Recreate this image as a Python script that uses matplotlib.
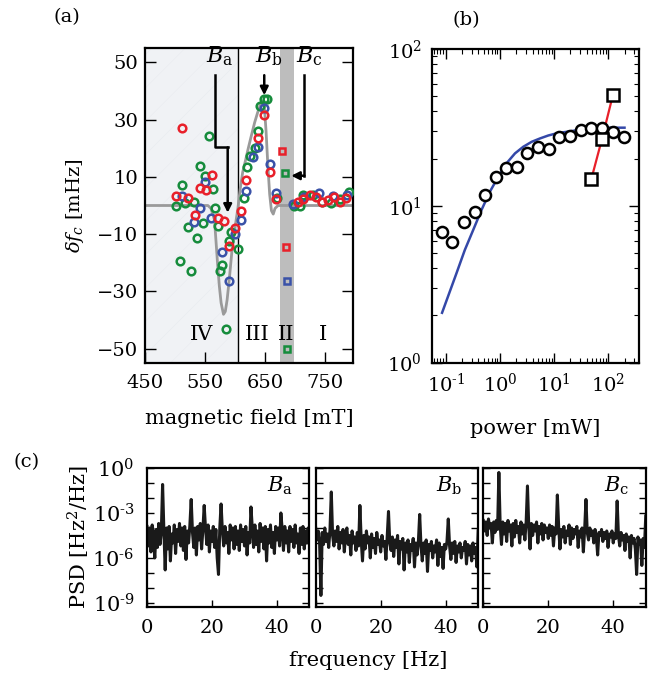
import numpy as np
import matplotlib.pyplot as plt
from matplotlib.patches import Rectangle
from matplotlib.ticker import LogLocator, NullFormatter, FixedLocator

plt.rcParams['font.family'] = ['DejaVu Serif']
plt.rcParams['mathtext.fontset'] = 'dejavuserif'
plt.rcParams['font.size'] = 14
plt.rcParams['axes.linewidth'] = 1.6
plt.rcParams['hatch.linewidth'] = 0.3
plt.rcParams['hatch.color'] = '#e4e8ed'

RED = '#e8202a'
GREEN = '#168c3c'
BLUE = '#3a52a8'

# ---- panel (a): frequency shift vs magnetic field ----
red_B = [512, 502, 522, 533, 541, 551, 561, 572, 581, 590, 600, 610, 619, 638, 649, 659, 668,
         706, 714, 725, 736, 746, 755, 765, 776, 786]
red_df = [27, 3.4, 2.6, -3.2, 6.2, 5.4, 10.7, -4.4, -5.5, -14.2, -7.8, -2, 9, 23.4, 31.6, 11.8, 2.3,
          1.1, 2.3, 3.8, 2.9, 1.1, 1.9, 2.9, 1.3, 2.7]
green_B = [556, 542, 550, 512, 563, 502, 516, 531, 566, 571, 522, 546, 537, 508, 526, 575, 578,
           590, 593, 605, 586, 615, 621, 626, 633, 638, 642, 649, 654, 671, 698, 708, 714, 731,
           746, 761, 775, 790]
green_df = [24.1, 13.9, 10.4, 7.3, 5.8, -0.1, 0.9, 1.3, -1, -7.3, -7.5, -6.1, -11.4, -19.5, -23,
            -23, -20.7, -12.5, -9.3, -15.2, -43, 2.5, 13.3, 17.4, 20, 26, 34.6, 37.3, 37.3, 2.5,
            -0.1, -0.1, 3.7, 3.7, 1.1, 0.9, 2.3, 4.6]
blue_B = [512, 542, 550, 531, 560, 578, 590, 600, 610, 618, 630, 638, 649, 659, 668, 697, 716,
          740, 764, 787]
blue_df = [3.4, -1, 8.1, -5.6, -4.5, -16.1, -26.5, -10, -5, 5.2, 16.8, 20.3, 34, 14.5, 4.4, 0.5,
           2.8, 4.4, 3.4, 3.7]
red_sq_B = [678, 686]
red_sq_df = [19.1, -14.6]
green_sq_B = [683, 687]
green_sq_df = [11.2, -50]
blue_sq_B = [687]
blue_sq_df = [-26.5]

model_B = [450, 555, 560, 566, 571, 574, 577, 581, 584, 587, 591, 595, 600, 605, 609, 613, 618,
           622, 627, 633, 638, 642, 645, 647, 649, 652, 655, 658, 661, 664, 667, 672, 800]
model_df = [0, 0, -1, -5, -20, -28, -34, -38, -37, -33, -25, -16, -8, -1, 6, 11.6, 16, 19.7,
            24, 29, 32.5, 35, 36.3, 36.5, 35, 26, 14, 4, -1.8, -3, -1, 0, 0]

# ---- panel (b): power dependence ----
power = [0.0855, 0.133, 0.215, 0.34, 0.535, 0.843, 1.29, 2.04, 3.2, 5.1, 8.1, 12.6, 19.8, 31.2,
         49, 77, 122, 192]
shift = [6.8, 5.9, 7.9, 9.2, 11.8, 15.2, 17.4, 17.8, 21.8, 23.6, 23.2, 27.6, 28, 30.5, 31.5,
         31.3, 29.4, 27.6]
sq_power = [49, 77, 122]
sq_shift = [14.9, 26.8, 50.9]
fit_power = [0.0855, 0.110, 0.158, 0.225, 0.321, 0.457, 0.653, 0.931, 1.33, 1.90, 2.70, 3.86,
             5.5, 7.85, 11.2, 22.8, 46, 94, 200]
fit_shift = [2.08, 2.64, 3.72, 5.23, 7.01, 9.40, 12.3, 15.3, 18.7, 21.6, 23.8, 25.6, 26.9,
             28.1, 29.0, 30.1, 31.1, 31.5, 31.5]

# ---- panel (c): noise spectra, log10(PSD), 0.4 Hz steps ----
df_step = 0.4
psd_a = [-3.9, -5.2, -4.0, -5.6, -3.8, -4.9, -6.0, -4.1, -5.3, -3.7,
         -5.1, -4.3, -1.1, -4.2, -6.8, -4.0, -5.4, -3.9, -6.2, -4.4,
         -5.0, -3.8, -5.7, -4.1, -4.9, -3.7, -5.2, -4.0, -5.5, -3.9,
         -6.1, -4.2, -5.0, -3.8, -2.1, -4.3, -5.3, -4.0, -5.8, -3.9,
         -4.8, -3.7, -5.4, -4.1, -2.5, -4.0, -5.1, -3.8, -5.6, -4.2,
         -4.9, -3.9, -5.3, -4.1, -6.0, -7.1, -4.0, -2.4, -4.2, -5.2,
         -3.9, -5.0, -4.3, -5.7, -3.8, -4.8, -4.0, -5.4, -3.9, -5.1,
         -4.2, -5.5, -3.8, -4.9, -4.1, -5.2, -3.9, -5.8, -4.3, -5.0,
         -2.6, -4.0, -5.3, -3.8, -5.1, -4.2, -5.6, -3.7, -4.9, -4.0,
         -5.4, -3.9, -6.2, -4.1, -5.0, -3.8, -5.3, -4.3, -5.7, -3.9,
         -4.8, -4.0, -5.2, -3.0, -4.1, -5.5, -3.9, -5.0, -4.2, -5.6,
         -3.9, -4.9, -4.1, -5.3, -3.8, -5.0, -4.4, -5.7, -4.0, -5.1,
         -3.9, -5.4, -4.2, -5.0, -4.0, -4.7]
psd_b = [-4.0, -4.8, -4.2, -5.0, -8.5, -4.3, -5.1, -4.0, -4.9, -4.4,
         -5.3, -4.1, -1.6, -4.5, -5.2, -4.2, -4.9, -3.9, -5.4, -4.3,
         -5.0, -4.1, -5.6, -4.4, -4.0, -5.1, -4.5, -5.8, -4.2, -5.0,
         -4.6, -5.5, -4.3, -5.2, -2.5, -4.8, -6.2, -4.5, -5.4, -4.2,
         -5.0, -4.6, -6.0, -4.4, -5.3, -4.7, -5.7, -4.3, -5.1, -4.8,
         -5.6, -4.5, -5.2, -4.9, -6.1, -4.6, -2.9, -5.0, -5.5, -4.6,
         -5.9, -4.8, -5.3, -4.5, -6.4, -4.9, -5.4, -4.7, -6.8, -5.0,
         -5.6, -4.8, -6.3, -5.1, -5.5, -4.7, -6.6, -5.0, -5.8, -4.9,
         -3.1, -5.2, -6.2, -5.0, -5.7, -4.8, -6.9, -5.1, -5.5, -4.9,
         -6.0, -5.2, -5.6, -4.8, -6.5, -5.0, -5.9, -5.3, -6.7, -5.1,
         -5.4, -4.9, -3.4, -5.2, -6.1, -5.0, -5.7, -4.9, -6.3, -5.2,
         -5.6, -5.0, -6.0, -5.3, -5.5, -4.9, -6.4, -5.1, -5.8, -5.2,
         -6.2, -5.0, -5.7, -5.3, -6.6, -4.2]
psd_c = [-3.5, -4.2, -3.6, -4.5, -3.4, -4.0, -3.7, -5.0, -3.6, -4.3,
         -3.5, -4.1, -0.3, -3.8, -5.1, -3.6, -4.4, -3.7, -4.9, -3.5,
         -4.2, -3.8, -5.2, -3.7, -4.6, -3.5, -4.3, -3.9, -5.0, -3.6,
         -4.4, -3.8, -4.8, -3.6, -1.2, -3.9, -5.4, -3.7, -4.5, -3.8,
         -4.2, -3.6, -5.0, -3.9, -4.4, -3.7, -4.8, -3.8, -4.3, -4.0,
         -4.7, -3.8, -4.5, -3.9, -5.2, -4.0, -4.4, -1.8, -3.9, -5.4,
         -4.1, -4.6, -3.9, -5.0, -4.2, -4.5, -3.8, -5.1, -4.0, -4.7,
         -4.1, -4.4, -3.9, -5.3, -4.2, -4.6, -4.0, -5.6, -4.1, -2.1,
         -4.3, -4.8, -4.0, -4.5, -4.2, -5.0, -4.1, -4.6, -5.8, -4.3,
         -4.5, -4.1, -4.9, -4.3, -4.7, -4.2, -5.3, -4.4, -4.6, -4.2,
         -5.0, -4.4, -4.7, -2.2, -4.5, -5.2, -4.3, -4.8, -4.5, -5.5,
         -4.4, -4.9, -4.6, -6.0, -4.5, -5.0, -4.7, -5.4, -7.1, -4.6,
         -5.1, -4.8, -6.5, -4.7, -5.3, -3.2]
psd_sets = [psd_a, psd_b, psd_c]
psd_names = [r'$B_\mathrm{a}$', r'$B_\mathrm{b}$', r'$B_\mathrm{c}$']

fig = plt.figure(figsize=(6.7, 6.75), dpi=100)

# ---------------- (a) ----------------
ax = fig.add_axes([0.2164, 0.4622, 0.3104, 0.4667])
ax.set_xlim(452, 797)
ax.set_ylim(-55, 55)
ax.add_patch(Rectangle((440, -60), 166, 120, facecolor='#f0f2f5', edgecolor='none', zorder=0))
ax.add_patch(Rectangle((440, -60), 166, 120, facecolor='none', edgecolor='#e6eaef',
                       hatch='/', linewidth=0, zorder=0))
ax.axvline(606, color='black', lw=1.0, zorder=1)
ax.axvspan(675, 698, color='#bdbdbd', lw=0, zorder=1)
ax.plot(model_B, model_df, color='#9a9a9a', lw=2, zorder=2)

kw = dict(ls='none', marker='o', mfc='none', ms=5.5, mew=1.8, zorder=3)
ax.plot(green_B, green_df, mec=GREEN, **kw)
ax.plot(blue_B, blue_df, mec=BLUE, **kw)
ax.plot(red_B, red_df, mec=RED, **kw)
kws = dict(ls='none', marker='s', mfc='none', ms=5, mew=1.8, zorder=3)
ax.plot(red_sq_B, red_sq_df, mec=RED, **kws)
ax.plot(green_sq_B, green_sq_df, mec=GREEN, **kws)
ax.plot(blue_sq_B, blue_sq_df, mec=BLUE, **kws)

arr = dict(arrowstyle='-|>', color='black', lw=1.8, mutation_scale=12, shrinkA=0, shrinkB=0)
ax.plot([567, 567, 588], [45.5, 20.3, 20.3], color='black', lw=1.8, zorder=4)
ax.annotate('', xy=(588, -2.5), xytext=(588, 20.3), arrowprops=arr, zorder=4)
ax.annotate('', xy=(649, 38.5), xytext=(649, 45.5), arrowprops=arr, zorder=4)
ax.plot([716, 716], [45.5, 10.4], color='black', lw=1.8, zorder=4)
ax.annotate('', xy=(694, 10.4), xytext=(716, 10.4), arrowprops=arr, zorder=4)
ax.text(575, 48, r'$B_\mathrm{a}$', ha='center', va='bottom', fontsize=16)
ax.text(656, 48, r'$B_\mathrm{b}$', ha='center', va='bottom', fontsize=16)
ax.text(725, 48, r'$B_\mathrm{c}$', ha='center', va='bottom', fontsize=16)
for lab, xx in zip(['IV', 'III', 'II', 'I'], [545, 638, 686, 747]):
    ax.text(xx, -45, lab, ha='center', va='center', fontsize=15)

ax.set_xticks([450, 550, 650, 750])
ax.set_yticks([-50, -30, -10, 10, 30, 50])
ax.set_yticklabels(['\u221250', '\u221230', '\u221210', '10', '30', '50'])
ax.tick_params(direction='in', length=8, width=1, right=True, top=False, labelsize=14, pad=5)
ax.tick_params(axis='x', pad=8)
ax.set_xlabel('magnetic field [mT]', fontsize=15, labelpad=12)
ax.set_ylabel(r'$\delta f_c$ [mHz]', fontsize=14, labelpad=8)
fig.text(0.08, 0.975, '(a)', fontsize=14, ha='left', va='center')

# ---------------- (b) ----------------
bx = fig.add_axes([0.6443, 0.4627, 0.3094, 0.4647])
bx.set_xscale('log')
bx.set_yscale('log')
bx.set_xlim(0.055, 370)
bx.set_ylim(1, 100)
bx.plot(fit_power, fit_shift, color='#3448a8', lw=1.8, zorder=2)
bx.plot(sq_power, sq_shift, color=RED, lw=1.6, zorder=2)
bx.plot(power, shift, ls='none', marker='o', mfc='white', mec='black', ms=8, mew=1.8, zorder=3)
bx.plot(sq_power, sq_shift, ls='none', marker='s', mfc='white', mec='black', ms=8, mew=1.8,
        zorder=4)
bx.xaxis.set_major_locator(FixedLocator([0.1, 1, 10, 100]))
bx.set_xticklabels([r'$10^{\text{-}1}$', r'$10^{0}$', r'$10^{1}$', r'$10^{2}$'])
bx.xaxis.set_minor_locator(LogLocator(base=10, subs=np.arange(2, 10), numticks=20))
bx.xaxis.set_minor_formatter(NullFormatter())
bx.yaxis.set_major_locator(FixedLocator([1, 10, 100]))
bx.set_yticklabels([r'$10^{0}$', r'$10^{1}$', r'$10^{2}$'])
bx.yaxis.set_minor_locator(LogLocator(base=10, subs=np.arange(2, 10), numticks=20))
bx.yaxis.set_minor_formatter(NullFormatter())
bx.tick_params(which='major', direction='in', length=7, width=1, top=True, right=True,
               labelsize=14, pad=7)
bx.tick_params(which='minor', direction='in', length=3.5, width=0.8, top=True, right=True)
bx.set_xlabel('power [mW]', fontsize=15, labelpad=17)
fig.text(0.675, 0.97, '(b)', fontsize=14, ha='left', va='center')

# ---------------- (c) ----------------
lefts = [0.2194, 0.4712, 0.7213]
for i, (x0, vals, name) in enumerate(zip(lefts, psd_sets, psd_names)):
    cx = fig.add_axes([x0, 0.1012, 0.2425, 0.2055])
    freq = np.arange(len(vals)) * df_step
    cx.plot(freq, 10.0 ** np.array(vals), color='#1a1a1a', lw=2.2)
    cx.set_yscale('log')
    cx.set_xlim(0, 50)
    cx.set_ylim(10 ** -9.25, 1)
    cx.set_xticks([0, 20, 40])
    cx.yaxis.set_major_locator(FixedLocator([10.0 ** k for k in range(-9, 1)]))
    cx.yaxis.set_minor_locator(FixedLocator([]))
    if i == 0:
        cx.set_yticklabels([r'$10^{\text{-}9}$' if k == -9 else r'$10^{\text{-}6}$' if k == -6
                            else r'$10^{\text{-}3}$' if k == -3 else r'$10^{0}$' if k == 0
                            else '' for k in range(-9, 1)])
    else:
        cx.set_yticklabels([])
    cx.tick_params(direction='in', length=5, width=1, right=True, top=False,
                   labelsize=14, pad=9)
    cx.tick_params(axis='y', labelsize=15, pad=9)
    cx.text(0.82, 0.87, name, transform=cx.transAxes, ha='center', va='center', fontsize=15)
    if i == 0:
        cx.set_ylabel(r'PSD [Hz$^2$/Hz]', fontsize=15, labelpad=0)

fig.text(0.55, 0.022, 'frequency [Hz]', fontsize=15, ha='center', va='center')
fig.text(0.02, 0.315, '(c)', fontsize=14, ha='left', va='center')

fig.savefig('out.png', dpi=100)
